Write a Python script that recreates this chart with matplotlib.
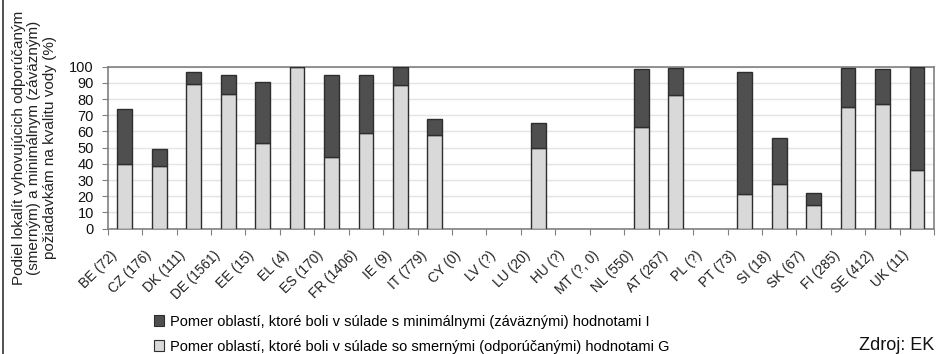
import matplotlib
matplotlib.use("Agg")
import matplotlib.pyplot as plt
import matplotlib.transforms as mtransforms
import numpy as np
from matplotlib.lines import Line2D

categories = ["BE (72)", "CZ (176)", "DK (111)", "DE (1561)", "EE (15)", "EL (4)",
              "ES (170)", "FR (1406)", "IE (9)", "IT (779)", "CY (0)", "LV (?)",
              "LU (20)", "HU (?)", "MT (?, 0)", "NL (550)", "AT (267)", "PL (?)",
              "PT (73)", "SI (18)", "SK (67)", "FI (285)", "SE (412)", "UK (11)"]
# share compliant with guide (G) values
guide_g = [40, 39, 89.5, 83, 53, 100, 44, 59, 89, 58, 0, 0,
           50, 0, 0, 62.5, 82.5, 0, 21.5, 27.5, 14.5, 75, 77, 36]
# total share compliant with mandatory (I) values
total_i = [74, 49, 96.5, 95, 90.5, 100, 95, 95, 100, 68, 0, 0,
           65, 0, 0, 98.5, 99.5, 0, 97, 56, 22, 99.5, 98.5, 100]
mandatory_i = [t - g for t, g in zip(total_i, guide_g)]

legend_i = "Pomer oblastí, ktoré boli v súlade s minimálnymi (záväznými) hodnotami I"
legend_g = "Pomer oblastí, ktoré boli v súlade so smernými (odporúčanými) hodnotami G"
ylabel = ("Podiel lokalít vyhovujúcich odporúčaným\n"
          "(smerným) a minimálnym (záväzným)\n"
          "požiadavkám na kvalitu vody (%)")
source = "Zdroj: EK"

plt.rcParams['font.family'] = ['Liberation Sans', 'DejaVu Sans']

fig = plt.figure(figsize=(9.36, 3.54), dpi=100)
ax = fig.add_axes([0.115, 0.354, 0.883, 0.4576])

x = np.arange(len(categories))
dark = "#4f4f4f"
light = "#d9d9d9"
edge = "#2e2e2e"
bw = 0.43
mask = np.array(total_i) > 0
ax.bar(x[mask], np.array(guide_g)[mask], width=bw, color=light, edgecolor=edge, linewidth=1.0, zorder=3)
ax.bar(x[mask], np.array(mandatory_i)[mask], bottom=np.array(guide_g)[mask], width=bw,
       color=dark, edgecolor=edge, linewidth=1.0, zorder=3)

ax.set_xlim(-0.5, len(categories) - 0.5)
ax.set_ylim(0, 100)
ax.set_yticks(np.arange(0, 101, 10))
ax.yaxis.grid(True, color="#e4e4e4", linewidth=1.0, zorder=0)
ax.set_axisbelow(True)
for s in ax.spines.values():
    s.set_color("#808080")
    s.set_linewidth(1.2)

ax.set_xticks(np.arange(-0.5, len(categories), 1), minor=False)
ax.set_xticklabels([])
ax.set_xticks(x, minor=True)
ax.set_xticklabels(categories, minor=True, rotation=45, ha='right', rotation_mode='anchor',
                   fontsize=9.8, color="#222222")
ax.tick_params(axis='x', which='major', length=4, color="#808080")
ax.tick_params(axis='x', which='minor', length=0, pad=14)
offset = mtransforms.ScaledTranslation(-11 / 72, 0, fig.dpi_scale_trans)
for lab in ax.get_xticklabels(minor=True):
    lab.set_transform(lab.get_transform() + offset)
ax.tick_params(axis='y', length=4, color="#808080", labelsize=10.5, labelcolor="#111111", pad=6)

ax.set_ylabel(ylabel, fontsize=11, color="#222222", linespacing=1.12, labelpad=9)

handles = [plt.Rectangle((0, 0), 1, 1, facecolor=dark, edgecolor=edge, linewidth=0.8),
           plt.Rectangle((0, 0), 1, 1, facecolor=light, edgecolor=edge, linewidth=0.8)]
fig.legend(handles, [legend_i, legend_g], loc='upper left', bbox_to_anchor=(0.164, 0.111),
           frameon=False, fontsize=10.5, handlelength=0.7, handleheight=0.7, handletextpad=0.4,
           labelspacing=0.75, borderaxespad=0, borderpad=0)

fig.text(0.998, 0.012, source, ha='right', va='baseline', fontsize=13,
         family=['Liberation Sans Narrow', 'Liberation Sans', 'DejaVu Sans'], color="#111111")

fig.add_artist(Line2D([0.003, 0.003], [0, 1], transform=fig.transFigure, color="#333333", linewidth=1.2))

fig.savefig("out.png", dpi=100)
